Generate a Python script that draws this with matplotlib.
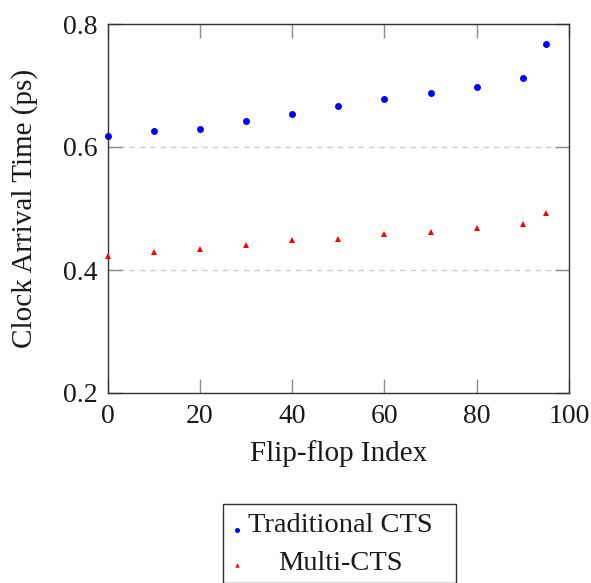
import matplotlib
matplotlib.use("Agg")
import matplotlib.pyplot as plt
from matplotlib.lines import Line2D
from matplotlib.patches import Rectangle

plt.rcParams['font.family'] = ['Liberation Serif', 'DejaVu Serif']

# Flip-flop indices and clock arrival times (ps)
flipflop_index = [0, 10, 20, 30, 40, 50, 60, 70, 80, 90, 95]
traditional_cts = [0.618, 0.626, 0.630, 0.642, 0.654, 0.666, 0.678, 0.688, 0.698, 0.712, 0.767]
multi_cts = [0.422, 0.429, 0.434, 0.441, 0.448, 0.451, 0.458, 0.461, 0.468, 0.475, 0.492]

x_ticks = [0, 20, 40, 60, 80, 100]
y_ticks = [0.2, 0.4, 0.6, 0.8]
series_names = ["Traditional CTS", "Multi-CTS"]

W, H = 591, 583
ax_l, ax_r, ax_t, ax_b = 107.5, 569, 24, 393
fig = plt.figure(figsize=(W / 100, H / 100), dpi=100)
ax = fig.add_axes([ax_l / W, 1 - ax_b / H, (ax_r - ax_l) / W, (ax_b - ax_t) / H])

ax.plot(flipflop_index, traditional_cts, linestyle='none', marker='o',
        markersize=5, color='#0000ff', markeredgewidth=0, clip_on=False, zorder=3)
ax.plot(flipflop_index, multi_cts, linestyle='none', marker='^',
        markersize=5, color='#ff0000', markeredgewidth=0, clip_on=False, zorder=3)

ax.set_xlim(0, 100)
ax.set_ylim(0.2, 0.8)
ax.set_xticks(x_ticks)
ax.set_yticks(y_ticks)
ax.set_yticklabels([f"{v:.1f}" for v in y_ticks])
ax.tick_params(direction='in', length=10, width=1, color='#8c8c8c',
               top=True, right=True, labelsize=20, labelcolor='#1a1a1a')
ax.tick_params(axis='x', pad=8)
ax.tick_params(axis='y', pad=7)
for s in ax.spines.values():
    s.set_color('#333333')
    s.set_linewidth(1.0)

ax.yaxis.grid(True, linestyle=(0, (4, 3.5)), color='#cccccc', linewidth=1.0)
ax.set_axisbelow(True)

ax.set_xlabel("Flip-flop Index", fontsize=21, color='#1a1a1a', va='center')
ax.set_ylabel("Clock Arrival Time (ps)", fontsize=21, color='#1a1a1a', va='center')
ax.xaxis.set_label_coords(0.5, (ax_b - 454) / (ax_b - ax_t))
ax.yaxis.set_label_coords((25 - ax_l) / (ax_r - ax_l), 0.5)

# Legend box below the axes, text centred in its column
box_left, box_right, box_top = 223, 456, 504
fig.patches.append(Rectangle((box_left / W, 0), (box_right - box_left) / W,
                             1 - box_top / H, transform=fig.transFigure,
                             facecolor='white', edgecolor='#333333', linewidth=1.0))
rows = [(530, 526, 'o', '#0000ff', 3.6), (565, 563, '^', '#ff0000', 3.2)]
for name, (my, ty, mk, col, ms) in zip(series_names, rows):
    fig.lines.append(Line2D([237 / W], [1 - my / H], transform=fig.transFigure,
                            marker=mk, markersize=ms, color=col,
                            markeredgewidth=0, linestyle='none'))
    fig.text(340 / W, 1 - ty / H, name, ha='center', va='center',
             fontsize=20.5, color='#1a1a1a')

fig.savefig("out.png", dpi=100)
